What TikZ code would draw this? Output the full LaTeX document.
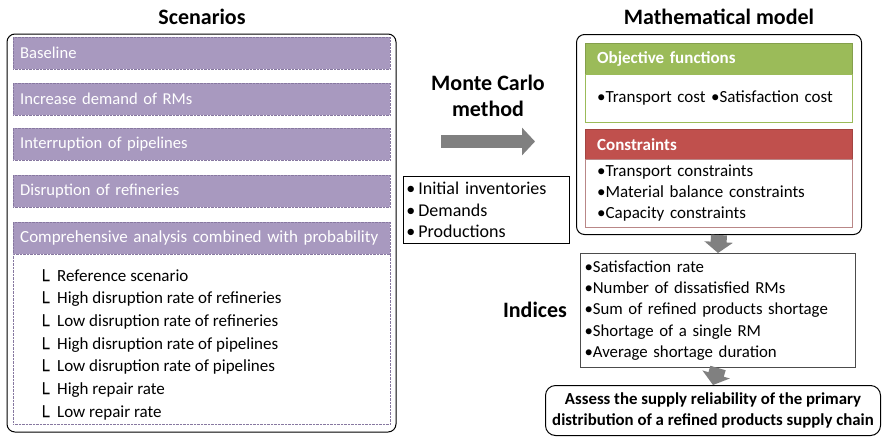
\documentclass[tikz,border=0pt]{standalone}
\usepackage{fontspec}
\setmainfont{Carlito}
\newfontfamily\cornerfont{DejaVu Sans}
\usetikzlibrary{arrows.meta}
\definecolor{scenpurple}{RGB}{168,153,191}
\definecolor{scenedge}{RGB}{135,120,160}
\definecolor{objgreen}{RGB}{155,187,89}
\definecolor{conred}{RGB}{192,80,77}
\definecolor{conedge}{RGB}{185,135,135}
\definecolor{flowgray}{RGB}{128,128,128}
\newcommand{\corner}{\makebox[19pt][l]{\raisebox{-6pt}{\cornerfont\fontsize{19}{19}\selectfont └}}}

\begin{document}
\begin{tikzpicture}[x=1pt,y=-1pt,
		every node/.style={font=\fontsize{17}{22.6}\selectfont},
		title/.style={font=\fontsize{22}{26}\selectfont\bfseries},
		scenbar/.style={anchor=north west,fill=scenpurple,draw=scenedge,densely dotted,
			text width=363pt,inner xsep=7pt,minimum height=32pt,align=left,text=white,
			font=\fontsize{16.6}{20}\selectfont},
		subitem/.style={anchor=base west,inner xsep=0pt},
		head/.style={anchor=north west,text width=243pt,inner xsep=12pt,minimum height=31pt,
			align=left,text=white,font=\fontsize{17}{22}\selectfont\bfseries},
		body/.style={anchor=north west,fill=white,text width=243pt,inner xsep=12pt,align=left,
			font=\fontsize{17}{21}\selectfont},
		flow/.style={draw=flowgray,line width=16pt,-{Triangle[width=28pt,length=11pt]}}]
	\useasboundingbox (0,0) rectangle (882,437);
	\node[title] (scentitle) at (202,17) {Scenarios};
	\draw [line width=1pt, rounded corners=8pt] (7,34) rectangle (396,432);
	\node[scenbar] (baseline) at (13,37) {Baseline};
	\node[scenbar] (demand) at (13,83) {Increase demand of RMs};
	\node[scenbar] (pipes) at (13,128) {Interruption of pipelines};
	\node[scenbar] (refin) at (13,175) {Disruption of refineries};
	\node[scenbar,font=\fontsize{17}{20}\selectfont] (compre) at (13,222) {Comprehensive analysis combined with probability};
	\node[anchor=north west,draw=scenedge,densely dotted,fill=white,minimum width=377pt,minimum height=170pt] (sublist) at (13,254) {};
	\node[subitem] (sub1) at (38,281) {\corner Reference scenario};
	\node[subitem] (sub2) at (38,303.7) {\corner High disruption rate of refineries};
	\node[subitem] (sub3) at (38,326.4) {\corner Low disruption rate of refineries};
	\node[subitem] (sub4) at (38,349.1) {\corner High disruption rate of pipelines};
	\node[subitem] (sub5) at (38,371.8) {\corner Low disruption rate of pipelines};
	\node[subitem] (sub6) at (38,394.5) {\corner High repair rate};
	\node[subitem] (sub7) at (38,417.2) {\corner Low repair rate};

	\node[title,align=center] (monte) at (488,96) {Monte Carlo\\method};
	\coordinate (mcfrom) at (441,141.5);
	\coordinate (mcto) at (535,141.5);
	\draw [flow, line width=13pt, -{Triangle[width=27pt,length=13pt]}] (mcfrom) -- (mcto);
	\node[anchor=north west,draw,line width=0.8pt,text width=160pt,inner xsep=3pt,minimum height=67pt,
		align=left,font=\fontsize{18}{21.5}\selectfont] (inputs) at (403,176)
		{•\,Initial inventories\\•\,Demands\\•\,Productions};

	\node[title] (mathtitle) at (719,17) {Mathematical model};
	\node[anchor=north west,draw,line width=1pt,rounded corners=8pt,minimum width=285pt,minimum height=200pt] (model) at (576,34) {};
	\node[head,fill=objgreen,draw=objgreen!85!black] (objhead) at (585,43) {Objective functions};
	\node[body,draw=objgreen,minimum height=48pt] (objbody) at (585,74) {•Transport cost •Satisfaction cost};
	\node[head,fill=conred,draw=conred!85!black] (conhead) at (585,129) {Constraints};
	\node[body,draw=conedge,minimum height=68pt] (conbody) at (585,159)
		{•Transport constraints\\•Material balance constraints\\•Capacity constraints};

	\node[title] (indlabel) at (535,310) {Indices};
	\node[anchor=north west,draw=black!70,line width=1pt,text width=267pt,inner xsep=4pt,minimum height=114pt,
		align=left,font=\fontsize{16.8}{21.3}\selectfont] (indices) at (580,253)
		{•Satisfaction rate\\•Number of dissatisfied RMs\\•Sum of refined products shortage\\•Shortage of a single RM\\•Average shortage duration};
	\node[anchor=north west,draw,line width=1pt,rounded corners=10pt,minimum width=335pt,minimum height=50pt,inner xsep=2pt,
		align=center,font=\fontsize{16.8}{21}\selectfont\bfseries] (assess) at (545,385)
		{Assess the supply reliability of the primary\\distribution of a refined products supply chain};

	\draw [flow] (model.south) -- (indices.north);
	\draw [flow] (indices.south) -- (assess.north);
\end{tikzpicture}
\end{document}
